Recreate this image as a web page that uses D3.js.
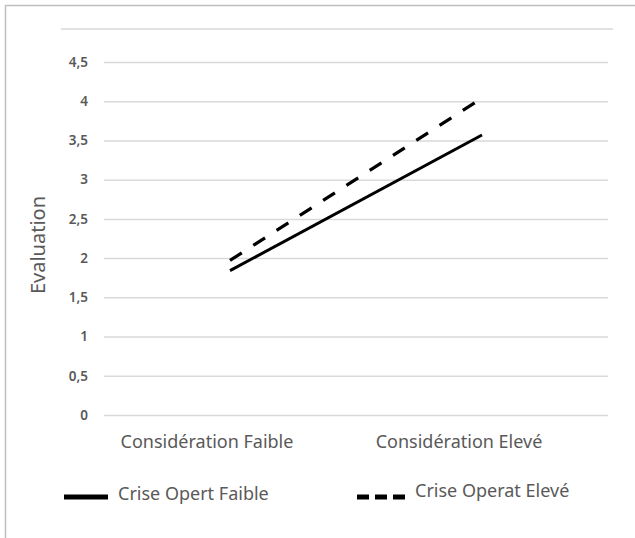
<!DOCTYPE html>
<html><head><meta charset="utf-8">
<script src="https://cdn.jsdelivr.net/npm/d3@7"></script>
<style>body{margin:0;background:#fff}svg{display:block}text{font-family:"Noto Sans",sans-serif}</style>
</head><body>
<svg id="c" width="635" height="538"></svg>
<script>
const categories = ["Considération Faible", "Considération Elevé"];
const seriesNames = ["Crise Opert Faible", "Crise Operat Elevé"];
const crisisLow = [1.84, 3.57];
const crisisHigh = [1.97, 4.04];
const yTicks = [0, 0.5, 1, 1.5, 2, 2.5, 3, 3.5, 4, 4.5];
const yTitle = "Evaluation";

const svg = d3.select("#c");
const textColor = "#595959";
const gridColor = "#d9d9d9";

// frame
svg.append("path").attr("d", "M5.5,538 V5.5 H635").attr("fill", "none").attr("stroke", "#bfbfbf").attr("stroke-width", 1.5);
// top decorative line
svg.append("line").attr("x1", 61).attr("x2", 613).attr("y1", 29).attr("y2", 29).attr("stroke", gridColor).attr("stroke-width", 1.5);

const x = d3.scaleBand().domain(categories).range([104, 608]);
const y = d3.scaleLinear().domain([0, 4.5]).range([415, 62]);
const loc = d3.formatLocale({decimal: ",", thousands: " ", grouping: [3], currency: ["", "€"]});
const fmt = loc.format("~g");

const yAxis = svg.append("g").attr("transform", "translate(104,0)")
  .call(d3.axisLeft(y).tickValues(yTicks).tickFormat(fmt).tickSize(-504).tickPadding(16));
yAxis.select(".domain").remove();
yAxis.selectAll(".tick line").attr("stroke", gridColor).attr("stroke-width", 1.5);
yAxis.selectAll(".tick text").attr("fill", textColor).style("font-size", "13.5px")
  .style("font-weight", "600").style("font-family", "'Noto Sans',sans-serif");

// category labels
svg.append("g").selectAll("text").data(categories).join("text")
  .attr("x", d => x(d) + x.bandwidth() / 2 - 23)
  .attr("y", 448)
  .attr("text-anchor", "middle")
  .attr("fill", textColor)
  .style("font-size", "18px")
  .text(d => d);

// y title
svg.append("text")
  .attr("transform", "translate(45,245) rotate(-90)")
  .attr("text-anchor", "middle")
  .attr("fill", textColor)
  .style("font-size", "20px")
  .text(yTitle);

const line = d3.line().x((d, i) => x(categories[i]) + x.bandwidth() / 2).y(d => y(d));
svg.append("path").datum(crisisLow).attr("d", line).attr("fill", "none").attr("stroke", "#000").attr("stroke-width", 3);
svg.append("path").datum(crisisHigh).attr("d", line).attr("fill", "none").attr("stroke", "#000").attr("stroke-width", 3.2)
  .attr("stroke-dasharray", "14,13.7");

// legend
const legend = [
  {name: seriesNames[0], x1: 64, x2: 108, ty: 500, dash: null},
  {name: seriesNames[1], x1: 357, x2: 405, ty: 497, dash: "12,6"}
];
legend.forEach(l => {
  svg.append("line").attr("x1", l.x1).attr("x2", l.x2).attr("y1", 497).attr("y2", 497)
    .attr("stroke", "#000").attr("stroke-width", 5)
    .attr("stroke-dasharray", l.dash);
  svg.append("text").attr("x", l.x2 + 10).attr("y", l.ty).attr("fill", textColor)
    .style("font-size", "18px").text(l.name);
});
</script>
</body></html>
